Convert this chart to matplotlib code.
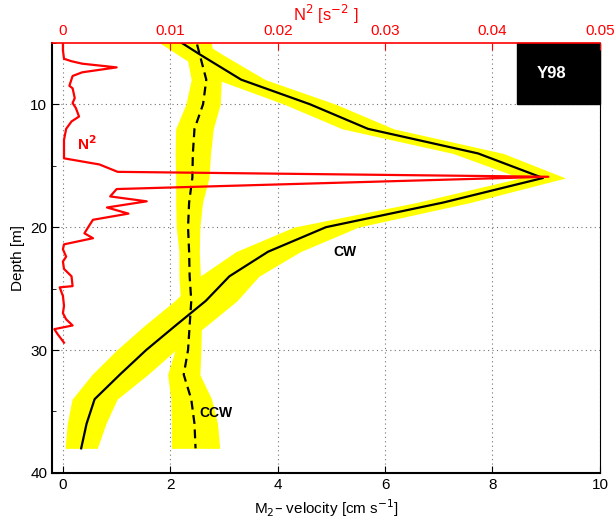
import matplotlib
matplotlib.use("Agg")
import matplotlib.pyplot as plt
from matplotlib.patches import Rectangle
from matplotlib.ticker import MultipleLocator

plt.rcParams['font.family'] = ['Liberation Sans', 'DejaVu Sans']

# profondeurs des bins ADCP [m]
depth = [4, 6, 8, 10, 12, 14, 16, 18, 20, 22, 24, 26, 28, 30, 32, 34, 36, 38]

# vitesse M2 clockwise / counter-clockwise [cm/s] et incertitudes
cw = [1.85, 2.57, 3.32, 4.6, 5.68, 7.73, 8.94, 7.08, 4.9, 3.82, 3.1, 2.66,
      2.1, 1.55, 1.06, 0.59, 0.44, 0.34]
cw_err = [0.4, 0.42, 0.45, 0.48, 0.48, 0.47, 0.42, 0.5, 0.6, 0.6, 0.55, 0.58,
          0.58, 0.55, 0.52, 0.42, 0.36, 0.3]
ccw = [2.43, 2.55, 2.67, 2.61, 2.45, 2.42, 2.41, 2.35, 2.33, 2.35, 2.36, 2.39,
       2.36, 2.33, 2.25, 2.39, 2.45, 2.47]
ccw_err = [0.3, 0.25, 0.28, 0.32, 0.35, 0.33, 0.31, 0.25, 0.22, 0.19, 0.2, 0.2,
           0.22, 0.24, 0.3, 0.38, 0.43, 0.45]

# profil de stratification N^2 [s^-2]
n2_depth = [5.0, 5.6, 6.3, 6.5, 6.7, 7.0, 7.4, 7.7, 8.5, 8.7, 9.5, 9.9, 10.3,
            11.0, 11.4, 12.0, 12.9, 13.7, 14.4, 14.9, 15.5, 15.9, 16.9, 17.5,
            17.9, 18.4, 18.9, 19.4, 19.8, 20.5, 20.9, 21.4, 21.8, 22.4, 22.8,
            23.4, 24.0, 24.8, 24.9, 25.6, 26.4, 27.0, 27.5, 28.0, 28.3, 28.7,
            29.4]
n2 = [0.0, 0.0, 0.0001, 0.0008, 0.0018, 0.0050, 0.0018, 0.0009, 0.0006,
      0.0009, 0.0011, 0.0009, 0.0012, 0.0015, 0.0008, 0.0003, 0.0001, 0.0001,
      0.0001, 0.0034, 0.0051, 0.0452, 0.0050, 0.0044, 0.0078, 0.0041, 0.0061,
      0.0028, 0.0025, 0.0020, 0.0028, 0.0001, 0.0, 0.0003, 0.0, 0.0001,
      0.0008, 0.0009, -0.0003, 0.0, 0.0001, 0.0, 0.0003, 0.0009, -0.0008,
      -0.0005, 0.0001]

fig = plt.figure(figsize=(6.14, 5.22), dpi=100)
ax = fig.add_axes([0.085, 0.094, 0.892, 0.824])

# bandes d'erreur jaunes
ax.fill_betweenx(depth, [c - e for c, e in zip(ccw, ccw_err)],
                 [c + e for c, e in zip(ccw, ccw_err)], color='yellow', lw=0, zorder=1)
ax.fill_betweenx(depth, [c - e for c, e in zip(cw, cw_err)],
                 [c + e for c, e in zip(cw, cw_err)], color='yellow', lw=0, zorder=1)
ax.plot(cw, depth, color='black', lw=1.6, zorder=3)
ax.plot(ccw, depth, color='black', lw=1.6, ls=(0, (4, 2.5)), zorder=3)

ax.set_xlim(-0.2, 10)
ax.set_ylim(40, 5)
ax.xaxis.set_major_locator(MultipleLocator(2))
ax.yaxis.set_minor_locator(MultipleLocator(5))
ax.set_yticks([10, 20, 30, 40])
ax.tick_params(which='both', direction='in', labelsize=11)
ax.tick_params(which='major', length=5)
ax.tick_params(which='minor', length=3)
ax.grid(True, which='major', ls=(0, (1, 3)), color='0.45', lw=0.8)
ax.set_axisbelow(True)
for s in ['left', 'bottom']:
    ax.spines[s].set_linewidth(1.5)
ax.spines['top'].set_visible(False)
ax.set_xlabel('M$_2$– velocity [cm s$^{-1}$]', fontsize=11)
ax.set_ylabel('Depth [m]', fontsize=11)

ax.text(5.25, 22.05, 'CW', fontsize=10, fontweight='bold', ha='center', va='center')
ax.text(2.85, 35.1, 'CCW', fontsize=10, fontweight='bold', ha='center', va='center')
ax.text(0.45, 13.2, 'N$^\\mathbf{2}$', fontsize=11, fontweight='bold', color='red',
        ha='center', va='center')

# boite Y98
ax.add_patch(Rectangle((8.46, 5), 1.54, 5, color='black', zorder=5, clip_on=False))
ax.text(9.1, 7.5, 'Y98', color='white', fontsize=12, fontweight='bold',
        ha='center', va='center', zorder=6)

# axe du haut pour N^2
ax2 = ax.twiny()
ax2.plot(n2, n2_depth, color='red', lw=1.6)
ax2.set_xlim(-0.001, 0.05)
ax2.set_xticks([0, 0.01, 0.02, 0.03, 0.04, 0.05])
ax2.set_xticklabels(['0', '0.01', '0.02', '0.03', '0.04', '0.05'])
ax2.tick_params(axis='x', direction='in', colors='red', labelsize=11, length=5)
ax2.spines['top'].set_color('red')
ax2.spines['top'].set_linewidth(1.2)
for s in ['left', 'bottom', 'right']:
    ax2.spines[s].set_visible(False)
ax2.set_xlabel('N$^2$ [s$^{-2}$ ]', color='red', fontsize=12, labelpad=2)

fig.savefig('out.png', dpi=100)
